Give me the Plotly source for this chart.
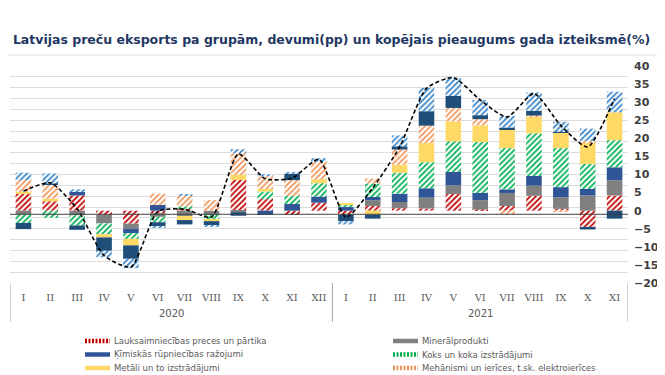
import plotly.graph_objects as go

# ---- data ----
months_2020 = ["I", "II", "III", "IV", "V", "VI", "VII", "VIII", "IX", "X", "XI", "XII"]
months_2021 = ["I", "II", "III", "IV", "V", "VI", "VII", "VIII", "IX", "X", "XI"]
year_labels = ["2020", "2021"]
years = [year_labels[0]] * len(months_2020) + [year_labels[1]] * len(months_2021)
months = months_2020 + months_2021

lauksaimniecibas = [4.7, 2.6, 4.2, -1.2, -3.6, -0.7, 0.7, 0.0, 8.5, 3.2, -1.2, 2.2,
                    -1.1, 1.3, 0.7, 0.6, 4.6, 0.3, 1.3, 4.1, 0.5, -4.5, 4.2]
mineralprodukti = [-1.1, 0.0, -1.3, -2.3, -1.4, -1.0, -1.5, -1.2, -0.4, 0.0, 0.0, 0.0,
                   0.0, 1.6, 1.7, 3.0, 2.4, 2.6, 3.6, 2.8, 3.2, 4.2, 4.2]
kimiskas = [0.0, 0.0, 1.0, 0.0, -1.2, 1.6, 0.0, 0.0, 0.0, -1.2, 1.85, 1.7,
            1.0, 0.9, 2.3, 2.6, 3.7, 2.0, 1.0, 2.7, 2.8, 1.8, 3.6]
koks = [-2.3, -2.0, -2.8, -3.0, -1.6, -1.5, 0.5, -1.2, 0.0, 2.1, 2.2, 3.7,
        0.6, 3.7, 5.8, 7.2, 8.5, 14.1, 11.4, 11.8, 10.8, 6.9, 7.5]
metali = [0.5, 0.7, 0.0, -0.9, -1.8, 0.0, -1.1, -0.5, 1.4, 0.7, 0.0, 1.1,
          0.3, -1.1, 2.2, 5.3, 5.5, 4.6, 5.2, 4.5, 4.2, 5.8, 7.7]
mehanismi = [3.2, 3.9, 0.2, 0.0, 0.0, 3.1, 3.0, 2.9, 6.0, 3.5, 4.4, 4.7,
             0.0, 1.4, 4.2, 4.8, 3.7, 1.7, -1.0, 0.4, -0.3, 0.6, 0.0]
transports = [-1.7, 0.3, -1.2, -3.7, -3.7, -1.2, -1.2, -1.2, -1.0, 0.0, 1.8, 0.0,
              -1.8, -1.1, 0.9, 4.0, 3.3, 1.1, 0.5, 1.3, 0.3, -0.7, -2.2]
parejas = [2.1, 2.8, 0.5, -1.8, -2.6, -0.3, 0.2, -0.4, 1.1, 0.6, 0.2, 1.1,
           -0.9, 0.0, 3.0, 6.5, 5.1, 4.2, 3.2, 5.1, 2.8, 3.4, 5.7]
kopejais = [5.4, 7.7, 0.5, -12.4, -15.6, -0.2, 0.4, -1.8, 15.7, 8.8, 9.0, 14.2,
            -1.8, 6.3, 17.6, 33.8, 36.8, 30.6, 25.9, 32.4, 23.5, 17.6, 31.0]

series = [
    ("Lauksaimniecības preces un pārtika", lauksaimniecibas, "#C00000", True, True),
    ("Minerālprodukti", mineralprodukti, "#808080", False, True),
    ("Ķīmiskās rūpniecības ražojumi", kimiskas, "#2F5597", False, True),
    ("Koks un koka izstrādājumi", koks, "#00B050", True, True),
    ("Metāli un to izstrādājumi", metali, "#FFD966", False, True),
    ("Mehānismi un ierīces, t.sk. elektroierīces", mehanismi, "#F0955A", True, True),
    ("Transporta līdzekļi", transports, "#1F4E79", False, False),
    ("Pārējās preces", parejas, "#3A84C7", True, False),
]

# unique category keys (year + month); ticks show the month only
cats = [f"{y} {m}" for y, m in zip(years, months)]

# page body adds an 8px offset; the figure is sized to the visible window
OFF = 8
W, H = 665 - OFF, 375 - OFF
PX0, PX1, PY0, PY1 = 10, 628, 66, 283
L, R, T, B = PX0 - OFF, W - (PX1 - OFF), PY0 - OFF, H - (PY1 - OFF)
plot_h = PY1 - PY0
plot_w = PX1 - PX0

def px_y(py):  # window pixel -> paper
    return (PY1 - py) / plot_h

def px_x(px):
    return (px - PX0) / plot_w

fig = go.Figure()
for name, vals, col, hatched, inleg in series:
    marker = dict(color=col, line=dict(width=0))
    if hatched:
        marker["pattern"] = dict(shape="/", fgcolor=col, bgcolor="white",
                                 size=4, solidity=0.45, fillmode="replace")
    fig.add_trace(go.Bar(x=cats, y=vals, name=name, marker=marker, yaxis="y"))

fig.add_trace(go.Scatter(x=cats, y=kopejais, mode="lines", name="Kopējais pieaugums",
                         line=dict(color="black", width=1.6, dash="4px,2.5px",
                                   shape="spline", smoothing=0.6),
                         yaxis="y2"))

shapes = [
    dict(type="line", xref="paper", yref="y", x0=0, x1=1, y0=-1, y1=-1,
         line=dict(color="#404040", width=1), layer="above"),
    dict(type="line", xref="paper", yref="paper", x0=px_x(OFF), x1=px_x(665),
         y0=px_y(55), y1=px_y(55), line=dict(color="#E0E0E0", width=1)),
]
annotations = []

# year group dividers and labels
n20 = len(months_2020)
n = len(cats)
for xb in [-0.5, n20 - 0.5, n - 0.5]:
    shapes.append(dict(type="line", xref="x", yref="paper", x0=xb, x1=xb,
                       y0=0, y1=px_y(322), line=dict(color="#A6A6A6", width=1)))
for yl, xc in zip(year_labels, [(n20 - 1) / 2, n20 + (n - n20 - 1) / 2]):
    annotations.append(dict(text=yl, xref="x", yref="paper", x=xc, y=px_y(313),
                            xanchor="center", yanchor="middle", showarrow=False,
                            font=dict(family="DejaVu Sans", size=10, color="#595959")))

# manual legend (two columns, flat swatches)
col_x = [85, 393]
row_y = [341, 354.5, 368]
leg_items = [s for s in series if s[4]]
for i, (name, vals, col, hatched, inleg) in enumerate(leg_items):
    cx = col_x[i % 2]
    ry = row_y[i // 2]
    shapes.append(dict(type="line", xref="paper", yref="paper",
                       x0=px_x(cx), x1=px_x(cx + 25), y0=px_y(ry), y1=px_y(ry),
                       line=dict(color=col, width=4.5,
                                 dash="2px,1.5px" if hatched else "solid")))
    annotations.append(dict(text=name, xref="paper", yref="paper",
                            x=px_x(cx + 27), y=px_y(ry), xanchor="left", yanchor="middle",
                            showarrow=False,
                            font=dict(family="DejaVu Sans", size=8.5, color="#595959")))

fig.update_layout(
    width=W, height=H,
    margin=dict(l=L, r=R, t=T, b=B, pad=0),
    paper_bgcolor="white", plot_bgcolor="white",
    barmode="relative", bargap=0.42, showlegend=False,
    font=dict(family="DejaVu Sans", color="#595959"),
    title=dict(text="<b>Latvijas preču eksports pa grupām, devumi(pp) un kopējais pieaugums gada izteiksmē(%)</b>",
               x=(331.5 - OFF) / W, xanchor="center", xref="container",
               y=1 - (40 - OFF) / H, yanchor="middle", yref="container",
               font=dict(family="DejaVu Sans", size=12.5, color="#1F3864")),
    xaxis=dict(type="category", categoryorder="array", categoryarray=cats,
               tickmode="array", tickvals=cats, ticktext=months,
               range=[-0.5, n - 0.5],
               showgrid=False, zeroline=False, showline=False,
               ticks="", tickangle=0, automargin=False, ticklabelstandoff=7,
               tickfont=dict(family="DejaVu Serif", size=10, color="#595959")),
    yaxis=dict(range=[-20, 40], tick0=-20, dtick=3, showgrid=True,
               gridcolor="#DCDCDC", gridwidth=1, showticklabels=False,
               zeroline=False, showline=False, automargin=False),
    yaxis2=dict(range=[-20, 40], dtick=5, overlaying="y", side="right",
                showgrid=False, zeroline=False, showline=False, ticks="",
                automargin=False, ticklabelstandoff=5,
                tickfont=dict(family="DejaVu Sans", size=11, color="#404040", weight="bold")),
    shapes=shapes,
    annotations=annotations,
)

fig.write_html("out.html")
